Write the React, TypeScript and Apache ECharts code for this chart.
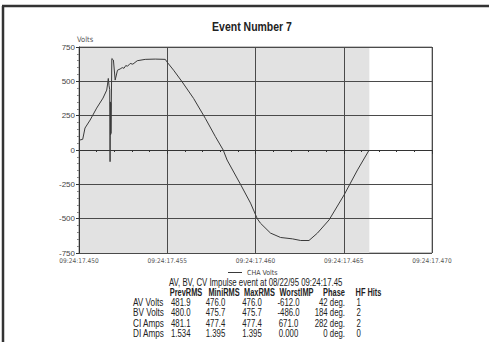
import React, { useEffect, useRef } from "react";
import * as echarts from "echarts";

const timeMs = [
  0, 0.06, 0.21, 0.34, 0.63, 1.0, 1.36, 1.57, 1.62, 1.66, 1.7, 1.74, 1.76, 1.78, 1.79, 1.8, 1.81, 1.86, 1.95,
  2.05, 2.18, 2.33, 2.45, 2.55, 2.65, 2.75, 2.9, 3.05, 3.3, 3.75, 4.32, 4.89, 4.98, 5.36, 5.84, 6.49, 7.16,
  7.73, 8.17, 8.39, 9.15, 9.72, 10.1, 10.28, 10.85, 11.42, 12.09, 12.56, 13.03, 13.51, 14.17, 15.02, 15.78, 16.44,
];
const volts = [
  70, 73, 78, 160, 218, 305, 378, 436, 480, 521, 470, 440, -85, 350, 110, 340, 120, 666, 655,
  509, 581, 590, 600, 595, 615, 610, 630, 625, 650, 660, 662, 660, 642, 581, 497, 376, 230,
  97, 0, -73, -250, -387, -500, -533, -605, -637, -647, -659, -659, -605, -509, -327, -145, 0,
];
const shadeEndMs = 16.45;
const yTicks = [-750, -500, -250, 0, 250, 500, 750];

const chartTitle = "Event Number 7";
const tableTitle = "AV, BV, CV Impulse event at 08/22/95 09:24:17.45";
const tableHeaders = ["PrevRMS", "MiniRMS", "MaxRMS", "WorstIMP", "Phase", "HF Hits"];
const rowLabels = ["AV Volts", "BV Volts", "CI Amps", "DI Amps"];
const prevRMS = ["481.9", "480.0", "481.1", "1.534"];
const miniRMS = ["476.0", "475.7", "477.4", "1.395"];
const maxRMS = ["476.0", "475.7", "477.4", "1.395"];
const worstIMP = ["-612.0", "-486.0", "671.0", "0.000"];
const phase = ["42 deg.", "184 deg.", "282 deg.", "0 deg."];
const hfHits = ["1", "2", "2", "0"];

export default function App() {
  const ref = useRef<HTMLDivElement>(null);
  useEffect(() => {
    if (!ref.current) return;
    const chart = echarts.init(ref.current, null, { renderer: "svg" });
    const font = "'Liberation Sans', Arial, sans-serif";
    const narrow = "'Liberation Sans Narrow', 'DejaVu Sans Condensed', 'Liberation Sans', sans-serif";
    const data = timeMs.map((t, i) => [t, volts[i]]);
    const sx = 0.78;

    const headerCx = [186, 224, 259.5, 296.5, 334, 368.5];
    const colsDef: { vals: string[]; x: number; align: string }[] = [
      { vals: prevRMS, x: 171, align: "left" },
      { vals: miniRMS, x: 215.5, align: "center" },
      { vals: maxRMS, x: 252, align: "center" },
      { vals: worstIMP, x: 288.5, align: "center" },
      { vals: phase, x: 345, align: "right" },
      { vals: hfHits, x: 356.5, align: "left" },
    ];
    const rowY = [302.5, 313, 323.5, 334];
    const textEls: any[] = [];
    textEls.push({
      type: "text", x: 252, y: 27, scaleX: 0.84,
      style: { text: chartTitle, font: `bold 12.5px ${font}`, fill: "#222", textAlign: "center", textVerticalAlign: "middle" },
    });
    textEls.push({
      type: "text", x: 169, y: 282.5, scaleX: sx,
      style: { text: tableTitle, font: `10px ${font}`, fill: "#222", textVerticalAlign: "middle" },
    });
    tableHeaders.forEach((h, i) => {
      textEls.push({
        type: "text", x: headerCx[i], y: 292.5, scaleX: 0.74,
        style: { text: h, font: `bold 10px ${font}`, fill: "#222", textAlign: "center", textVerticalAlign: "middle" },
      });
    });
    rowLabels.forEach((r, j) => {
      textEls.push({
        type: "text", x: 133, y: rowY[j], scaleX: 0.82,
        style: { text: r, font: `10px ${font}`, fill: "#222", textVerticalAlign: "middle" },
      });
      colsDef.forEach((c) => {
        textEls.push({
          type: "text", x: c.x, y: rowY[j], scaleX: sx,
          style: { text: c.vals[j], font: `10px ${font}`, fill: "#222", textAlign: c.align, textVerticalAlign: "middle" },
        });
      });
    });

    chart.setOption({
      animation: false,
      backgroundColor: "#fff",
      grid: {
        left: 79, top: 47, right: 57, bottom: 89,
        show: true, borderColor: "#888", borderWidth: 1, backgroundColor: "transparent",
      },
      legend: {
        show: true, left: 223, top: 264, itemWidth: 14, itemHeight: 1, itemGap: 5,
        icon: "rect",
        textStyle: { fontFamily: narrow, fontSize: 7, color: "#444" },
        data: ["CHA Volts"],
      },
      xAxis: {
        type: "value", min: 0, max: 20, interval: 5, z: 3,
        axisLine: { show: true, lineStyle: { color: "#333" } },
        axisTick: { show: true, length: 4, lineStyle: { color: "#333" } },
        minorTick: { show: true, splitNumber: 5, length: 2, lineStyle: { color: "#333" } },
        splitLine: { show: true, lineStyle: { color: "#4a4a4a", width: 1 } },
        axisLabel: {
          fontFamily: narrow, fontSize: 6.5, color: "#555", margin: 4,
          formatter: (v: number) => "09:24:17." + String(450 + Math.round(v)),
        },
      },
      yAxis: {
        type: "value", min: -750, max: 750, interval: 250, z: 3,
        name: "Volts", nameLocation: "end", nameGap: 3,
        nameTextStyle: { fontFamily: narrow, fontSize: 7.5, color: "#555", align: "left", padding: [0, 0, 0, -2] },
        axisLine: { show: true, lineStyle: { color: "#333" } },
        axisTick: { show: true, length: 3, lineStyle: { color: "#333" } },
        minorTick: { show: true, splitNumber: 5, length: 2, lineStyle: { color: "#888" } },
        splitLine: { show: true, lineStyle: { color: "#4a4a4a", width: 1 } },
        axisLabel: {
          fontFamily: font, fontSize: 8, color: "#444", margin: 4,
          formatter: (v: number) => (yTicks.includes(v) ? String(v) : ""),
        },
      },
      series: [
        {
          name: "shade", type: "line", data: [], z: 1,
          markArea: {
            silent: true,
            itemStyle: { color: "#e2e2e2" },
            data: [[{ xAxis: 0, yAxis: -750 }, { xAxis: shadeEndMs, yAxis: 750 }]],
          },
        },
        {
          name: "CHA Volts", type: "line", data, showSymbol: false, symbol: "none",
          lineStyle: { color: "#3a3a3a", width: 1 }, itemStyle: { color: "#3a3a3a" },
          z: 5,
        },
      ],
      graphic: [
        { type: "line", shape: { x1: 3, y1: 6, x2: 3, y2: 342 }, style: { stroke: "#333", lineWidth: 2.5 } },
        { type: "line", shape: { x1: 2, y1: 6, x2: 489, y2: 6 }, style: { stroke: "#333", lineWidth: 2.5 } },
        ...textEls,
      ],
    });
    return () => chart.dispose();
  }, []);
  return (
    <div
      ref={ref}
      style={{ position: "fixed", left: 0, top: 0, width: 489, height: 342 }}
    />
  );
}
